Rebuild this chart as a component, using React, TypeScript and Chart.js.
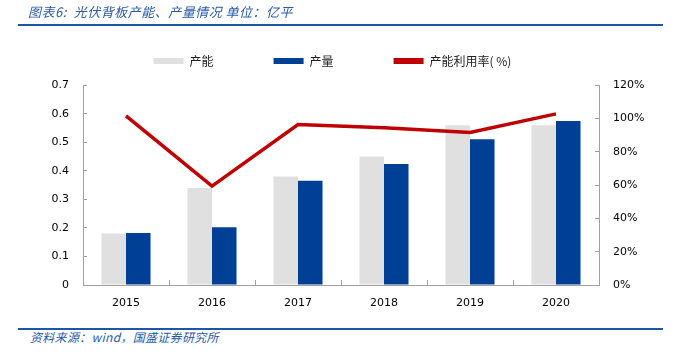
import React, { useEffect, useRef } from 'react';
import { Chart, registerables } from 'chart.js';

Chart.register(...registerables);

const categories = ['2015', '2016', '2017', '2018', '2019', '2020'];
const capacity = [0.18, 0.34, 0.38, 0.45, 0.56, 0.56];
const output = [0.182, 0.202, 0.365, 0.424, 0.511, 0.575];
const utilization = [101.6, 59.4, 96.4, 94.4, 91.6, 102.8];
const seriesNames = ['产能', '产量', '产能利用率( %)'];
const leftAxis = { min: 0, max: 0.7, step: 0.1 };
const rightAxis = { min: 0, max: 120, step: 20 };

const AXIS_COLOR = '#a0a0a0';
const TICK_FONT = { family: '"DejaVu Sans", "Noto Sans CJK SC"', size: 11 };

export default function App() {
  const ref = useRef<HTMLCanvasElement | null>(null);

  useEffect(() => {
    if (!ref.current) return;
    const chart = new Chart(ref.current, {
      type: 'bar',
      data: {
        labels: categories,
        datasets: [
          {
            label: seriesNames[0],
            data: capacity,
            backgroundColor: '#e0e0e0',
            borderWidth: 0,
            yAxisID: 'y',
            categoryPercentage: 0.57,
            barPercentage: 1.0,
          },
          {
            label: seriesNames[1],
            data: output,
            backgroundColor: '#003f96',
            borderWidth: 0,
            yAxisID: 'y',
            categoryPercentage: 0.57,
            barPercentage: 1.0,
          },
          {
            type: 'line',
            label: seriesNames[2],
            data: utilization,
            borderColor: '#c00000',
            backgroundColor: '#c00000',
            borderWidth: 3.5,
            pointRadius: 0,
            tension: 0,
            yAxisID: 'y1',
            order: -1,
          } as any,
        ],
      },
      options: {
        responsive: false,
        animation: false,
        devicePixelRatio: 1,
        layout: { padding: { top: 0, left: 0, right: 10, bottom: 0 } },
        plugins: {
          tooltip: { enabled: false },
          title: {
            display: true,
            text: ' ',
            font: { size: 1 },
            padding: { top: 0, bottom: 7 },
          },
          legend: {
            display: true,
            position: 'top',
            weight: 3000,
            labels: {
              boxWidth: 30,
              boxHeight: 6,
              padding: 60,
              color: '#222',
              font: { family: '"Noto Sans CJK SC", "DejaVu Sans"', size: 12 },
              generateLabels: (c: any) => {
                return c.data.datasets.map((ds: any, i: number) => ({
                  text: ds.label,
                  fillStyle: ds.type === 'line' ? ds.borderColor : ds.backgroundColor,
                  strokeStyle: 'transparent',
                  lineWidth: 0,
                  hidden: false,
                  datasetIndex: i,
                  fontColor: '#222',
                }));
              },
            },
          } as any,
        },
        scales: {
          x: {
            grid: {
              offset: true,
              drawOnChartArea: false,
              drawTicks: true,
              tickLength: -5,
              color: AXIS_COLOR,
            },
            border: { display: true, color: AXIS_COLOR },
            ticks: { color: '#000', font: TICK_FONT, padding: 17, maxRotation: 0 },
            afterFit: (s: any) => {
              s.height = 31;
            },
          },
          y: {
            position: 'left',
            min: leftAxis.min,
            max: leftAxis.max,
            grid: {
              drawOnChartArea: false,
              drawTicks: true,
              tickLength: -4,
              color: AXIS_COLOR,
            },
            border: { display: true, color: AXIS_COLOR },
            ticks: {
              stepSize: leftAxis.step,
              color: '#000',
              font: TICK_FONT,
              padding: 18,
              callback: (v: any) => String(Math.round(Number(v) * 10) / 10),
            },
            afterFit: (s: any) => {
              s.width = 83;
            },
          },
          y1: {
            position: 'right',
            min: rightAxis.min,
            max: rightAxis.max,
            grid: {
              drawOnChartArea: false,
              drawTicks: true,
              tickLength: -4,
              color: AXIS_COLOR,
            },
            border: { display: true, color: AXIS_COLOR },
            ticks: {
              stepSize: rightAxis.step,
              color: '#000',
              font: TICK_FONT,
              padding: 18,
              callback: (v: any) => `${v}%`,
            },
            afterFit: (s: any) => {
              s.width = 66;
            },
          },
        },
      } as any,
    });
    return () => chart.destroy();
  }, []);

  const blue = '#1f55a5';
  const textStyle: React.CSSProperties = {
    position: 'absolute',
    fontFamily: '"Noto Sans CJK SC", "DejaVu Sans", sans-serif',
    fontStyle: 'italic',
    color: '#2a5aa8',
    whiteSpace: 'nowrap',
    lineHeight: 1,
  };

  return (
    <div
      style={{
        position: 'absolute',
        left: 0,
        top: 0,
        width: 675,
        height: 357,
        overflow: 'hidden',
        background: '#fff',
      }}
    >
      <canvas
        ref={ref}
        width={675}
        height={321}
        style={{ position: 'absolute', left: 0, top: -5, width: 675, height: 321 }}
      />
      <div style={{ ...textStyle, left: 28, top: 5, fontSize: 13, letterSpacing: 0.5 }}>
        图表6:&nbsp;&nbsp;光伏背板产能、产量情况 单位：亿平
      </div>
      <div style={{ position: 'absolute', left: 18, top: 24, width: 645, height: 2, background: blue }} />
      <div style={{ position: 'absolute', left: 18, top: 328, width: 645, height: 2, background: blue }} />
      <div style={{ ...textStyle, left: 30, top: 331, fontSize: 12, letterSpacing: 0.3 }}>
        资料来源：wind，国盛证券研究所
      </div>
    </div>
  );
}
